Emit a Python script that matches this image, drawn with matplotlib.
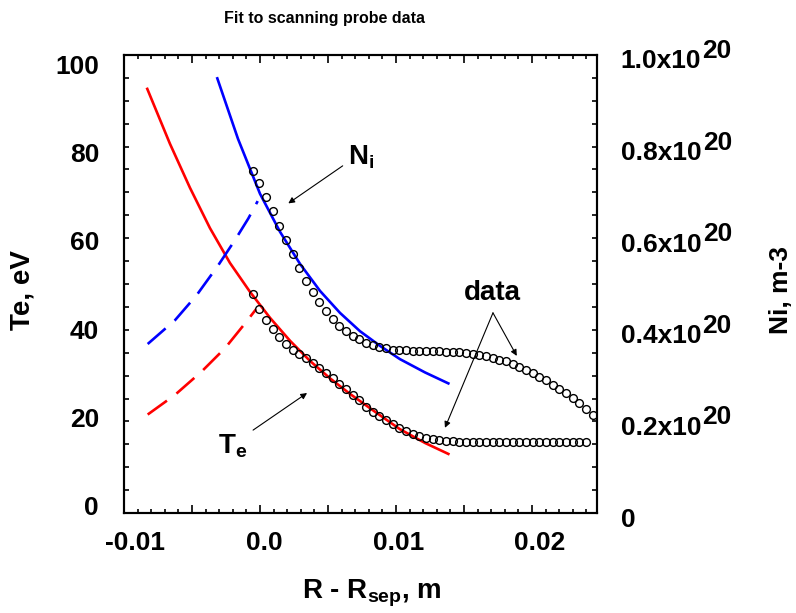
import numpy as np
import matplotlib
matplotlib.use('Agg')
import matplotlib.pyplot as plt
from matplotlib.ticker import MultipleLocator
from matplotlib.transforms import ScaledTranslation

plt.rcParams['font.family'] = ['Liberation Sans', 'DejaVu Sans']
plt.rcParams['font.weight'] = 'bold'
plt.rcParams['mathtext.default'] = 'regular'

# probe data, R - Rsep in m
r_data = [-0.00054, -0.00005, 0.00044, 0.00093, 0.00142, 0.00191, 0.00240, 0.00290,
          0.00339, 0.00388, 0.00437, 0.00486, 0.00535, 0.00584, 0.00633, 0.00682,
          0.00731, 0.00780, 0.00829, 0.00878, 0.00927, 0.00976, 0.01025, 0.01074,
          0.01123, 0.01172, 0.01221, 0.01270, 0.01319, 0.01368, 0.01417, 0.01466,
          0.01515, 0.01564, 0.01613, 0.01662, 0.01711, 0.01761, 0.01810, 0.01859,
          0.01908, 0.01957, 0.02006, 0.02055, 0.02104, 0.02153, 0.02202, 0.02251,
          0.02300, 0.02349, 0.02398, 0.02447]

# Te data (eV), one point fewer than Ni
te_data = [47.8, 44.5, 42.1, 40.1, 38.4, 36.9, 35.7, 34.7, 33.8, 32.7,
           31.7, 30.6, 29.4, 28.2, 27.0, 25.8, 24.7, 23.2, 22.1, 21.2,
           20.3, 19.4, 18.5, 17.8, 17.2, 16.8, 16.3, 16.1, 15.9, 15.7,
           15.7, 15.6, 15.6, 15.6, 15.6, 15.6, 15.5, 15.5, 15.5, 15.5,
           15.5, 15.5, 15.5, 15.4, 15.4, 15.4, 15.4, 15.4, 15.4, 15.4, 15.4]

# Ni data (1e20 m-3)
ni_data = [0.747, 0.720, 0.691, 0.659, 0.627, 0.596, 0.565, 0.536, 0.507, 0.483,
           0.460, 0.440, 0.423, 0.408, 0.397, 0.387, 0.379, 0.372, 0.367, 0.363,
           0.360, 0.357, 0.356, 0.355, 0.354, 0.354, 0.354, 0.353, 0.353, 0.352,
           0.352, 0.351, 0.350, 0.348, 0.346, 0.342, 0.339, 0.335, 0.331, 0.325,
           0.319, 0.313, 0.306, 0.298, 0.291, 0.279, 0.271, 0.261, 0.251, 0.240,
           0.227, 0.214]

# fits
te_fit_r = [-0.00829, -0.00662, -0.00515, -0.00368, -0.00221, -0.00074, 0.00074,
            0.00221, 0.00368, 0.00515, 0.00662, 0.00846, 0.01029, 0.01213, 0.01385]
te_fit = [92.6, 80.6, 71.0, 62.2, 54.6, 48.3, 42.6, 37.6, 33.2, 29.4, 26.0, 22.1,
          18.3, 15.3, 12.9]

te_ext_r = [-0.00826, -0.00625, -0.00429, -0.00257, -0.00110, -0.00029]
te_ext = [21.5, 25.8, 30.9, 36.0, 41.4, 44.5]

ni_fit_r = [-0.00314, -0.00162, 0.0, 0.00147, 0.00294, 0.00441, 0.00588, 0.00735,
            0.00882, 0.01029, 0.01213, 0.01385]
ni_fit = [0.949, 0.817, 0.697, 0.614, 0.544, 0.485, 0.437, 0.397, 0.365, 0.336,
          0.307, 0.283]

ni_ext_r = [-0.00826, -0.00625, -0.00465, -0.00307, -0.00184, -0.00086, -0.00017]
ni_ext = [0.369, 0.421, 0.476, 0.541, 0.596, 0.643, 0.681]

x_ticks = [-0.01, 0.0, 0.01, 0.02]
x_ticklabels = ['-0.01', '0.0', '0.01', '0.02']
te_ticks = [0, 20, 40, 60, 80, 100]
ni_ticks = [0.0, 0.2, 0.4, 0.6, 0.8, 1.0]
ni_ticklabels = ['0', '0.2x10', '0.4x10', '0.6x10', '0.8x10', '1.0x10']

fig = plt.figure(figsize=(7.96, 6.13), dpi=100)
ax = fig.add_axes([0.1558, 0.1631, 0.5942, 0.7472])
ax2 = ax.twinx()

lw = 1.9
ax.plot(te_fit_r, te_fit, color='red', lw=lw)
ax.plot(te_ext_r, te_ext, color='red', lw=lw, dashes=(9, 4.5))
ax.plot(r_data[:len(te_data)], te_data, 'o', ms=5.6, mfc='none', mec='black', mew=1.0)

ax2.plot(ni_fit_r, np.array(ni_fit) * 1e20, color='blue', lw=lw)
ax2.plot(ni_ext_r, np.array(ni_ext) * 1e20, color='blue', lw=lw, dashes=(9, 4.5))
ax2.plot(r_data, np.array(ni_data) * 1e20, 'o', ms=5.6, mfc='none', mec='black', mew=1.0)

ax.set_xlim(-0.01, 0.02478)
ax.set_ylim(0, 100)
ax2.set_ylim(0, 1e20)

# x ticks: long every 0.005, short every 0.001
xmaj = np.arange(-0.01, 0.0249, 0.005)
ax.set_xticks(xmaj)
ax.set_xticklabels([x_ticklabels[x_ticks.index(round(t, 3))] if round(t, 3) in x_ticks else ''
                    for t in xmaj])
ax.xaxis.set_minor_locator(MultipleLocator(0.001))
ax.tick_params(axis='x', which='major', direction='in', length=5.5, width=1.2,
               top=True, bottom=True, labelsize=19, pad=13)
ax.tick_params(axis='x', which='minor', direction='in', length=3.2, width=1.2,
               top=True, bottom=True)

ax.set_yticks(np.arange(0, 101, 5))
ax.set_yticklabels([str(v) if v in te_ticks else '' for v in range(0, 101, 5)])
ax.tick_params(axis='y', direction='in', length=3.8, width=1.2, labelsize=19, pad=18)

ax2.set_yticks(np.arange(0, 1.0001, 0.05) * 1e20)
labs = []
for v in np.arange(0, 1.0001, 0.05):
    v = round(v, 2)
    labs.append(ni_ticklabels[ni_ticks.index(v)] if v in ni_ticks else '')
ax2.set_yticklabels(labs)
ax2.tick_params(axis='y', direction='in', length=3.8, width=1.2, labelsize=19, pad=17)

for sp in list(ax.spines.values()) + list(ax2.spines.values()):
    sp.set_linewidth(1.5)

fig.canvas.draw()


def nudge(lab, dx, dy):
    # shift a tick label by dx, dy pixels (dy down)
    lab.set_transform(lab.get_transform() + ScaledTranslation(dx / 100, -dy / 100, fig.dpi_scale_trans))


x_shift = {'-0.01': 11, '0.0': 4, '0.01': 3, '0.02': 8}
for lab in ax.get_xticklabels():
    if lab.get_text() in x_shift:
        nudge(lab, x_shift[lab.get_text()], 0)
for lab in ax.get_yticklabels():
    if lab.get_text():
        nudge(lab, 0, -8 + 0.18 * float(lab.get_text()))
for lab in ax2.get_yticklabels():
    if lab.get_text():
        nudge(lab, 0, 4)

# exponent written as a raised 20 after each right tick label
for lab in ax2.get_yticklabels():
    if 'x10' in lab.get_text():
        ax2.annotate('20', xy=(1, 0.5), xycoords=lab, xytext=(1, 7.5),
                     textcoords='offset points', ha='left', va='center',
                     fontsize=19, fontweight='bold', annotation_clip=False)

ax.set_ylabel('Te, eV', fontsize=20, fontweight='bold', va='center', ha='center')
ax.yaxis.set_label_coords(-0.2156, 0.487)
ax2.set_ylabel('Ni, m-3', fontsize=19, fontweight='bold', va='center', ha='center')
ax2.yaxis.set_label_coords(1.389, 0.487)
ax.set_xlabel('R - R$_{sep}$, m', fontsize=20, fontweight='bold', va='center')
ax.xaxis.set_label_coords(0.524, -0.175)

fig.text(325 / 796, 1 - 18 / 613, 'Fit to scanning probe data', ha='center', va='center',
         fontsize=11.5, fontweight='bold')

arrow = dict(arrowstyle='-|>', color='black', lw=0.8, mutation_scale=9, shrinkA=0, shrinkB=0)
ax.text(0.00647, 76.0, 'N$_{i}$', fontsize=20, fontweight='bold', ha='left', va='baseline')
ax.annotate('', xy=(0.00208, 67.6), xytext=(0.00608, 75.8), arrowprops=arrow)

ax.text(-0.00309, 13.0, 'T$_{e}$', fontsize=20, fontweight='bold', ha='left', va='baseline')
ax.annotate('', xy=(0.00346, 26.2), xytext=(-0.00051, 18.1), arrowprops=arrow)

ax.text(0.01706, 48.0, 'data', fontsize=20, fontweight='bold', ha='center', va='center')
ax.annotate('', xy=(0.0136, 18.6), xytext=(0.01713, 43.7), arrowprops=arrow)
ax.annotate('', xy=(0.01888, 34.3), xytext=(0.01713, 43.7), arrowprops=arrow)

fig.savefig('out.png', dpi=100)
